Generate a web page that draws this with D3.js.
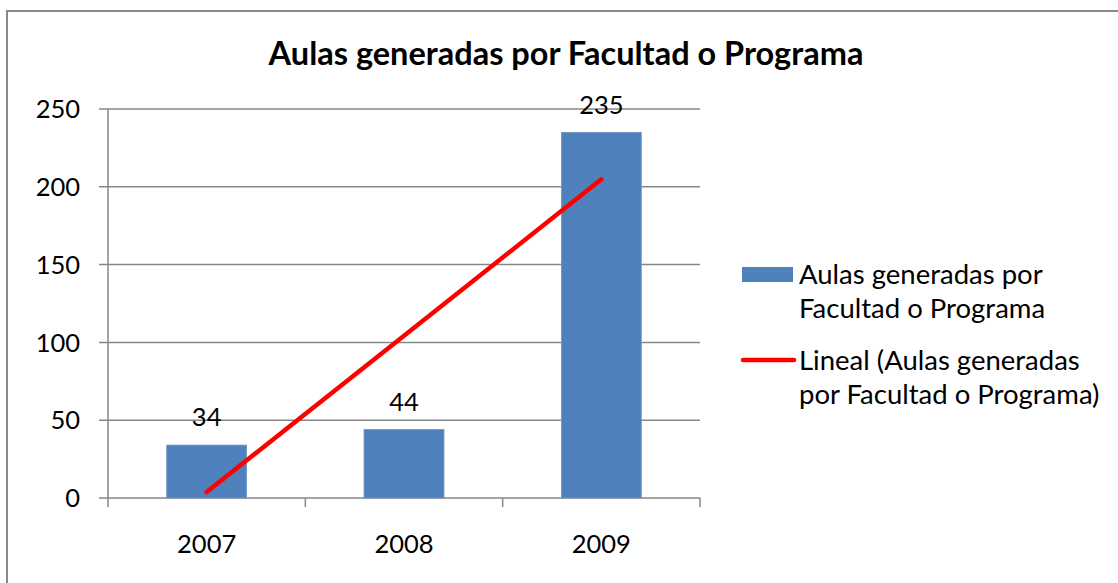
<!DOCTYPE html>
<html>
<head>
<meta charset="utf-8">
<script src="https://cdn.jsdelivr.net/npm/d3@7"></script>
<style>
  html, body { margin: 0; padding: 0; background: #fff; }
  svg { display: block; font-family: Lato, "Open Sans", sans-serif; }
</style>
</head>
<body>
<div id="plot"></div>
<script>
// chart values
const years = ["2007", "2008", "2009"];
const aulas = [34, 44, 235];
const trendValues = [3.8, 104.3, 204.8]; // linear trendline as drawn in the picture
const yTicks = [0, 50, 100, 150, 200, 250];
const title = "Aulas generadas por Facultad o Programa";
const legendBar = ["Aulas generadas por", "Facultad o Programa"];
const legendLine = ["Lineal (Aulas generadas", "por Facultad o Programa)"];

const W = 1118, H = 583;
const margin = {top: 109, right: 418, bottom: 85, left: 108},
      width = W - margin.left - margin.right,
      height = H - margin.top - margin.bottom;

const svg = d3.select("#plot").append("svg")
    .attr("width", W)
    .attr("height", H);

// outer chart border (runs off the right and bottom edge)
svg.append("rect")
    .attr("x", 7).attr("y", 11)
    .attr("width", W + 20).attr("height", H + 20)
    .attr("fill", "none")
    .attr("stroke", "#898989")
    .attr("stroke-width", 2);

const g = svg.append("g")
    .attr("transform", `translate(${margin.left},${margin.top})`);

const x = d3.scaleBand().domain(years).range([0, width]).padding(0);
const y = d3.scaleLinear().domain([0, 250]).range([height, 0]);
const barW = x.bandwidth() * 0.405;

// gridlines + y ticks
g.selectAll(".grid")
  .data(yTicks)
  .enter().append("line")
    .attr("x1", -9).attr("x2", width)
    .attr("y1", d => y(d)).attr("y2", d => y(d))
    .attr("stroke", "#878787")
    .attr("stroke-width", 1.5);

g.selectAll(".ylab")
  .data(yTicks)
  .enter().append("text")
    .attr("x", -28)
    .attr("y", d => y(d))
    .attr("dy", "0.36em")
    .attr("text-anchor", "end")
    .attr("font-size", "25.5px")
    .attr("fill", "#000")
    .text(d => d);

// y axis line
g.append("line")
    .attr("x1", 0).attr("x2", 0)
    .attr("y1", 0).attr("y2", height + 9)
    .attr("stroke", "#878787").attr("stroke-width", 1.5);

// x tick marks at category boundaries
const bounds = years.map(d => x(d)).concat([width]);
g.selectAll(".xtick")
  .data(bounds.slice(1))
  .enter().append("line")
    .attr("x1", d => d).attr("x2", d => d)
    .attr("y1", height).attr("y2", height + 9)
    .attr("stroke", "#878787").attr("stroke-width", 1.5);

// bars
g.selectAll(".bar")
  .data(aulas)
  .enter().append("rect")
    .attr("x", (d, i) => x(years[i]) + x.bandwidth() / 2 - barW / 2)
    .attr("y", d => y(d))
    .attr("width", barW)
    .attr("height", d => height - y(d))
    .attr("fill", "#4F81BD")
    .attr("stroke", "#6B96CA")
    .attr("stroke-width", 0.8);

// data labels
g.selectAll(".dlab")
  .data(aulas)
  .enter().append("text")
    .attr("x", (d, i) => x(years[i]) + x.bandwidth() / 2)
    .attr("y", d => y(d) - 28)
    .attr("dy", "0.36em")
    .attr("text-anchor", "middle")
    .attr("font-size", "25.5px")
    .text(d => d);

// x labels
g.selectAll(".xlab")
  .data(years)
  .enter().append("text")
    .attr("x", d => x(d) + x.bandwidth() / 2)
    .attr("y", height + 46)
    .attr("dy", "0.36em")
    .attr("text-anchor", "middle")
    .attr("font-size", "25.5px")
    .text(d => d);

// trendline
const line = d3.line()
    .x((d, i) => x(years[i]) + x.bandwidth() / 2)
    .y(d => y(d));
g.append("path")
    .datum(trendValues)
    .attr("d", line)
    .attr("fill", "none")
    .attr("stroke", "#FF0000")
    .attr("stroke-width", 4.5)
    .attr("stroke-linecap", "round");

// title
svg.append("text")
    .attr("x", 566)
    .attr("y", 65)
    .attr("text-anchor", "middle")
    .attr("font-size", "32.5px")
    .attr("font-weight", "bold")
    .text(title);

// legend
const leg = svg.append("g");
leg.append("rect")
    .attr("x", 742).attr("y", 267)
    .attr("width", 51).attr("height", 15)
    .attr("fill", "#4F81BD");
leg.selectAll(".lb")
  .data(legendBar)
  .enter().append("text")
    .attr("x", 799)
    .attr("y", (d, i) => 284 + i * 34)
    .attr("font-size", "27.5px")
    .text(d => d);
leg.append("line")
    .attr("x1", 743).attr("x2", 794)
    .attr("y1", 360).attr("y2", 360)
    .attr("stroke", "#FF0000")
    .attr("stroke-width", 4.5)
    .attr("stroke-linecap", "round");
leg.selectAll(".ll")
  .data(legendLine)
  .enter().append("text")
    .attr("x", 799)
    .attr("y", (d, i) => 370 + i * 34)
    .attr("font-size", "27.5px")
    .text(d => d);
</script>
</body>
</html>
